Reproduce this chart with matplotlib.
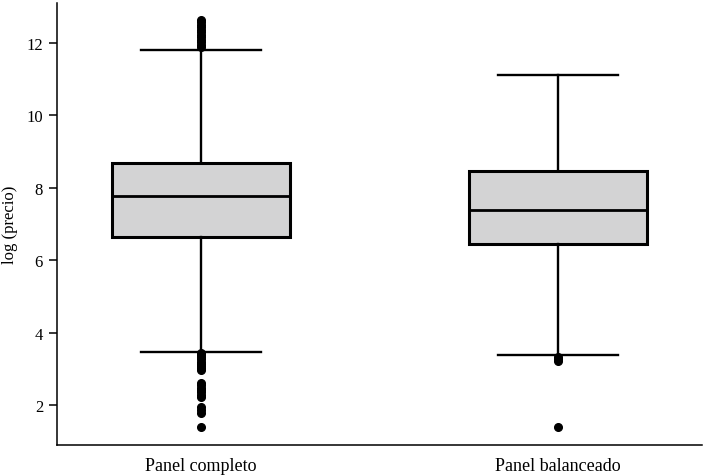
import matplotlib
matplotlib.use("Agg")
import matplotlib.pyplot as plt

# group labels and box statistics
labels = ["Panel completo", "Panel balanceado"]
q1 = [6.63, 6.46]
med = [7.76, 7.38]
q3 = [8.69, 8.45]
whislo = [3.47, 3.39]
whishi = [11.81, 11.12]

# outliers
fliers_completo = [12.64, 12.57, 12.50, 12.43, 12.36, 12.29, 12.22, 12.15, 12.08, 12.01, 11.94, 11.88,
                   3.44, 3.38, 3.32, 3.26, 3.20, 3.14, 3.08, 3.02, 2.97,
                   2.62, 2.55, 2.48, 2.42, 2.35, 2.29, 2.23,
                   1.95, 1.87, 1.79,
                   1.40]
fliers_balanceado = [3.32, 3.27, 3.21, 1.40]

yticks = [2, 4, 6, 8, 10, 12]

plt.rcParams['font.family'] = ['Liberation Serif', 'DejaVu Serif']

stats = []
fl = [fliers_completo, fliers_balanceado]
for i in range(len(labels)):
    stats.append({"label": labels[i], "q1": q1[i], "med": med[i], "q3": q3[i],
                  "whislo": whislo[i], "whishi": whishi[i], "fliers": fl[i]})

fig = plt.figure(figsize=(7.06, 4.77), dpi=100)
ax = fig.add_axes([57 / 706, 31 / 477, 645 / 706, 442 / 477])

ax.bxp(stats, positions=[1, 2], widths=0.5, capwidths=0.336, patch_artist=True,
       boxprops=dict(facecolor="#d3d3d4", edgecolor="black", linewidth=2.2),
       medianprops=dict(color="black", linewidth=2.0),
       whiskerprops=dict(color="black", linewidth=1.7),
       capprops=dict(color="black", linewidth=1.7),
       flierprops=dict(marker="o", markerfacecolor="black", markeredgecolor="black", markersize=5.5))

ax.set_xlim(0.597, 2.403)
ax.set_ylim(0.9, 13.1)
ax.set_yticks(yticks)
ax.set_yticklabels([str(t) for t in yticks])
ax.set_ylabel("log (precio)", fontsize=12)
ax.yaxis.set_label_coords(-0.06, 0.5)

ax.spines["top"].set_visible(False)
ax.spines["right"].set_visible(False)
for s in ["left", "bottom"]:
    ax.spines[s].set_linewidth(1.1)
ax.tick_params(axis="y", length=6, width=1.1, labelsize=12, pad=4)
ax.tick_params(axis="x", length=0, labelsize=13, pad=9)

fig.savefig("out.png", dpi=100)
